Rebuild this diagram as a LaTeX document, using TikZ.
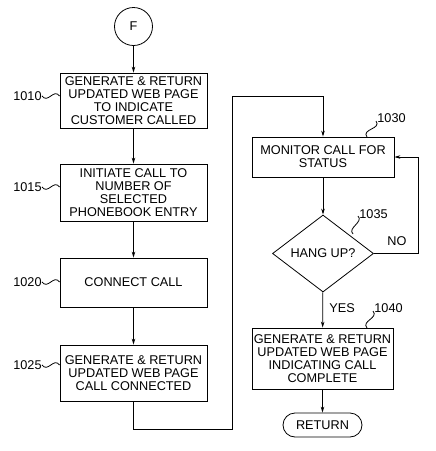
\documentclass[tikz,border=0pt]{standalone}
\usepackage{fontspec}
\setmainfont{Liberation Sans}
\usetikzlibrary{arrows.meta,shapes.geometric}

\tikzset{
  box/.style={draw, rectangle, inner sep=0pt, align=center},
  ref/.style={inner sep=0pt},
  flow/.style={-{Stealth[length=6pt,width=3.5pt]}},
}

\begin{document}
\begin{tikzpicture}[x=1pt, y=-1pt, line width=0.8pt,
    font=\fontsize{12.7}{12.8}\selectfont]
  \useasboundingbox (0,0) rectangle (436,451);

  % left column
  \node[draw, circle, minimum size=38pt, inner sep=0pt] (F) at (133.5,26.5) {F};
  \node[box, minimum width=147pt, minimum height=55pt] (b1010) at (133.5,100.5)
    {GENERATE \& RETURN\\UPDATED WEB PAGE\\TO INDICATE\\CUSTOMER CALLED};
  \node[box, minimum width=147pt, minimum height=57pt] (b1015) at (133.5,192.5)
    {INITIATE CALL TO\\NUMBER OF\\SELECTED\\PHONEBOOK ENTRY};
  \node[box, minimum width=147pt, minimum height=49pt] (b1020) at (133.5,282.5)
    {CONNECT CALL};
  \node[box, minimum width=147pt, minimum height=56pt] (b1025) at (133.5,373)
    {GENERATE \& RETURN\\UPDATED WEB PAGE\\CALL CONNECTED};

  % right column
  \node[box, minimum width=142pt, minimum height=40pt] (b1030) at (323,157)
    {MONITOR CALL FOR\\STATUS};
  \node[draw, diamond, minimum width=101pt, minimum height=77pt, inner sep=0pt]
    (hang) at (323,253.5) {HANG UP?};
  \node[box, minimum width=141pt, minimum height=61pt] (b1040) at (322.5,358.5)
    {GENERATE \& RETURN\\UPDATED WEB PAGE\\INDICATING CALL\\COMPLETE};
  \node[draw, rectangle, rounded corners=12pt, minimum width=79pt,
    minimum height=24pt, inner sep=0pt] (ret) at (322.5,425) {RETURN};

  % reference numbers
  \node[ref, anchor=east] (l1010) at (42,96) {1010};
  \node[ref, anchor=east] (l1015) at (42,187) {1015};
  \node[ref, anchor=east] (l1020) at (42,282) {1020};
  \node[ref, anchor=east] (l1025) at (42,365) {1025};
  \node[ref, anchor=west] (l1030) at (377,118) {1030};
  \node[ref, anchor=west] (l1035) at (359,214) {1035};
  \node[ref, anchor=west] (l1040) at (374,308) {1040};
  \node[ref, anchor=west] (yes) at (329,308) {YES};
  \node[ref] (no) at (397,241) {NO};

  \draw (l1010.east) .. controls +(6,8) and +(-6,-8) .. (b1010.west |- l1010.east);
  \draw (l1015.east) .. controls +(6,8) and +(-6,-8) .. (b1015.west |- l1015.east);
  \draw (l1020.east) .. controls +(6,8) and +(-6,-8) .. (b1020.west |- l1020.east);
  \draw (l1025.east) .. controls +(6,8) and +(-6,-8) .. (b1025.west |- l1025.east);
  \draw (367,137) .. controls +(-6,-8) and +(6,8) .. ([xshift=-1pt,yshift=-3pt]l1030.west);
  \draw (353,234) .. controls +(-6,-6) and +(6,6) .. ([xshift=-1pt,yshift=-2pt]l1035.west);
  \draw (367,328) .. controls +(-6,-7) and +(6,7) .. ([xshift=-1pt,yshift=-3pt]l1040.west);

  % connectors
  \coordinate (jA) at (232,429);
  \coordinate (jB) at (232,96);
  \draw[flow] (F) -- (b1010);
  \draw[flow] (b1010) -- (b1015);
  \draw[flow] (b1015) -- (b1020);
  \draw[flow] (b1020) -- (b1025);
  \draw[flow] (b1025.south) |- (jA) -- (jB) -| (b1030.north);
  \draw[flow] (b1030) -- (hang);
  \draw[flow] (hang.east) -- ++(44,0) |- (b1030.east);
  \draw[flow] (hang) -- (b1040);
  \draw[flow] (b1040) -- (ret);
\end{tikzpicture}
\end{document}
